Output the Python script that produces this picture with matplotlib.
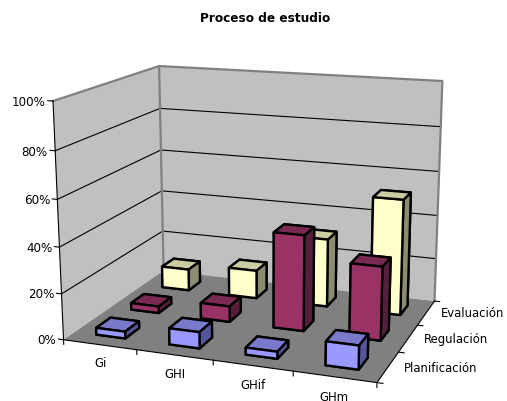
import matplotlib
matplotlib.use('Agg')
import matplotlib.pyplot as plt
from mpl_toolkits.mplot3d.art3d import Poly3DCollection

categories = ['Gi', 'GHI', 'GHif', 'GHm']
stages = ['Planificación', 'Regulación', 'Evaluación']
planificacion = [3, 7, 3, 10]
regulacion = [3, 7, 42, 32]
evaluacion = [10, 13, 31, 52]
percent_ticks = [0, 20, 40, 60, 80, 100]

front_colors = ['#9999FF', '#993366', '#FFFFCC']
top_colors = ['#7A7ACC', '#7A2952', '#CCCCA3']
side_colors = ['#555599', '#551F3C', '#8C8C70']

W, H = 507, 402
fig = plt.figure(figsize=(W / 100, H / 100), dpi=100)
ax = fig.add_axes([0, 0, 1, 1], projection='3d')
ax.set_xlim(0, 4, view_margin=0)
ax.set_ylim(0, 3, view_margin=0)
ax.set_zlim(0, 100, view_margin=0)
ax.view_init(elev=14.76, azim=-69.76, roll=0.13)
ax.set_proj_type('persp', focal_length=0.518)
ax.set_box_aspect((1, 0.7507, 0.7475))

# place the square 3d box so that one projected unit is 2420 px
scale, tx, ty = 2420.42, 256.69, 193.17
u0, u1 = ax.viewLim.intervalx
v0, v1 = ax.viewLim.intervaly
ax.set_position([(tx + scale * u0) / W, (ty + scale * v0) / H,
                 scale * (u1 - u0) / W, scale * (v1 - v0) / H])
ax.set_xticks([])
ax.set_yticks([])
ax.set_zticks([])
ax.set_axis_off()
ax.patch.set_alpha(0)
ax.computed_zorder = False


def poly(verts, color, z):
    ax.add_collection3d(Poly3DCollection([verts], facecolors=color, edgecolors='none', zorder=z))


# walls and floor
poly([(0, 0, 0), (0, 3, 0), (0, 3, 100), (0, 0, 100)], '#C0C0C0', 1)
poly([(0, 3, 0), (4, 3, 0), (4, 3, 100), (0, 3, 100)], '#C0C0C0', 1)
poly([(0, 0, 0), (4, 0, 0), (4, 3, 0), (0, 3, 0)], '#808080', 2)

for t in percent_ticks[1:-1]:
    ax.plot([0, 0, 4], [0, 3, 3], [t, t, t], color='black', lw=0.8, zorder=3)
ax.plot([0, 0, 4, 4], [0, 3, 3, 3], [100, 100, 100, 0], color='#808080', lw=1.6, zorder=3)
ax.plot([0, 0], [3, 3], [0, 100], color='#808080', lw=1.6, zorder=3)

# axis lines, ticks
ax.plot([0, 0, 4, 4], [0, 0, 0, 3], [100, 0, 0, 0], color='black', lw=0.8, zorder=4)
for t in percent_ticks:
    ax.plot([0, -0.07], [0, 0], [t, t], color='black', lw=0.8, zorder=4)
    ax.text(-0.1, 0, t - 0.4, f'{t}%', ha='right', va='center', fontsize=8.6, zorder=20)
for i in range(len(categories) + 1):
    ax.plot([i, i], [0, 0], [0, -2], color='black', lw=0.8, zorder=4)
for j in range(len(stages) + 1):
    ax.plot([4, 4.07], [j, j], [0, 0], color='black', lw=0.8, zorder=4)
for i, c in enumerate(categories):
    ax.text(i + 0.5, 0, -8, c, ha='center', va='center', fontsize=8.4, zorder=20)
for j, c in enumerate(stages):
    ax.text(4.19, j + 0.5, 0.7, c, ha='left', va='center', fontsize=8.4, zorder=20)

# bars, back row first so nearer ones paint over
series = [planificacion, regulacion, evaluacion]
bar_w = 0.4
order = 10
for j in (2, 1, 0):
    for i, val in enumerate(series[j]):
        faces = [top_colors[j], top_colors[j], front_colors[j], front_colors[j], side_colors[j], side_colors[j]]
        ax.bar3d(i + 0.5 - bar_w / 2, j + 0.5 - bar_w / 2, 0, bar_w, bar_w, val, color=faces,
                 edgecolor='black', linewidth=1.7, shade=False, zorder=order)
        order += 1

fig.text(265.5 / W, 1 - 19 / H, 'Proceso de estudio', ha='center', va='center', fontsize=8.7, fontweight='bold')
fig.savefig('out.png', dpi=100)
